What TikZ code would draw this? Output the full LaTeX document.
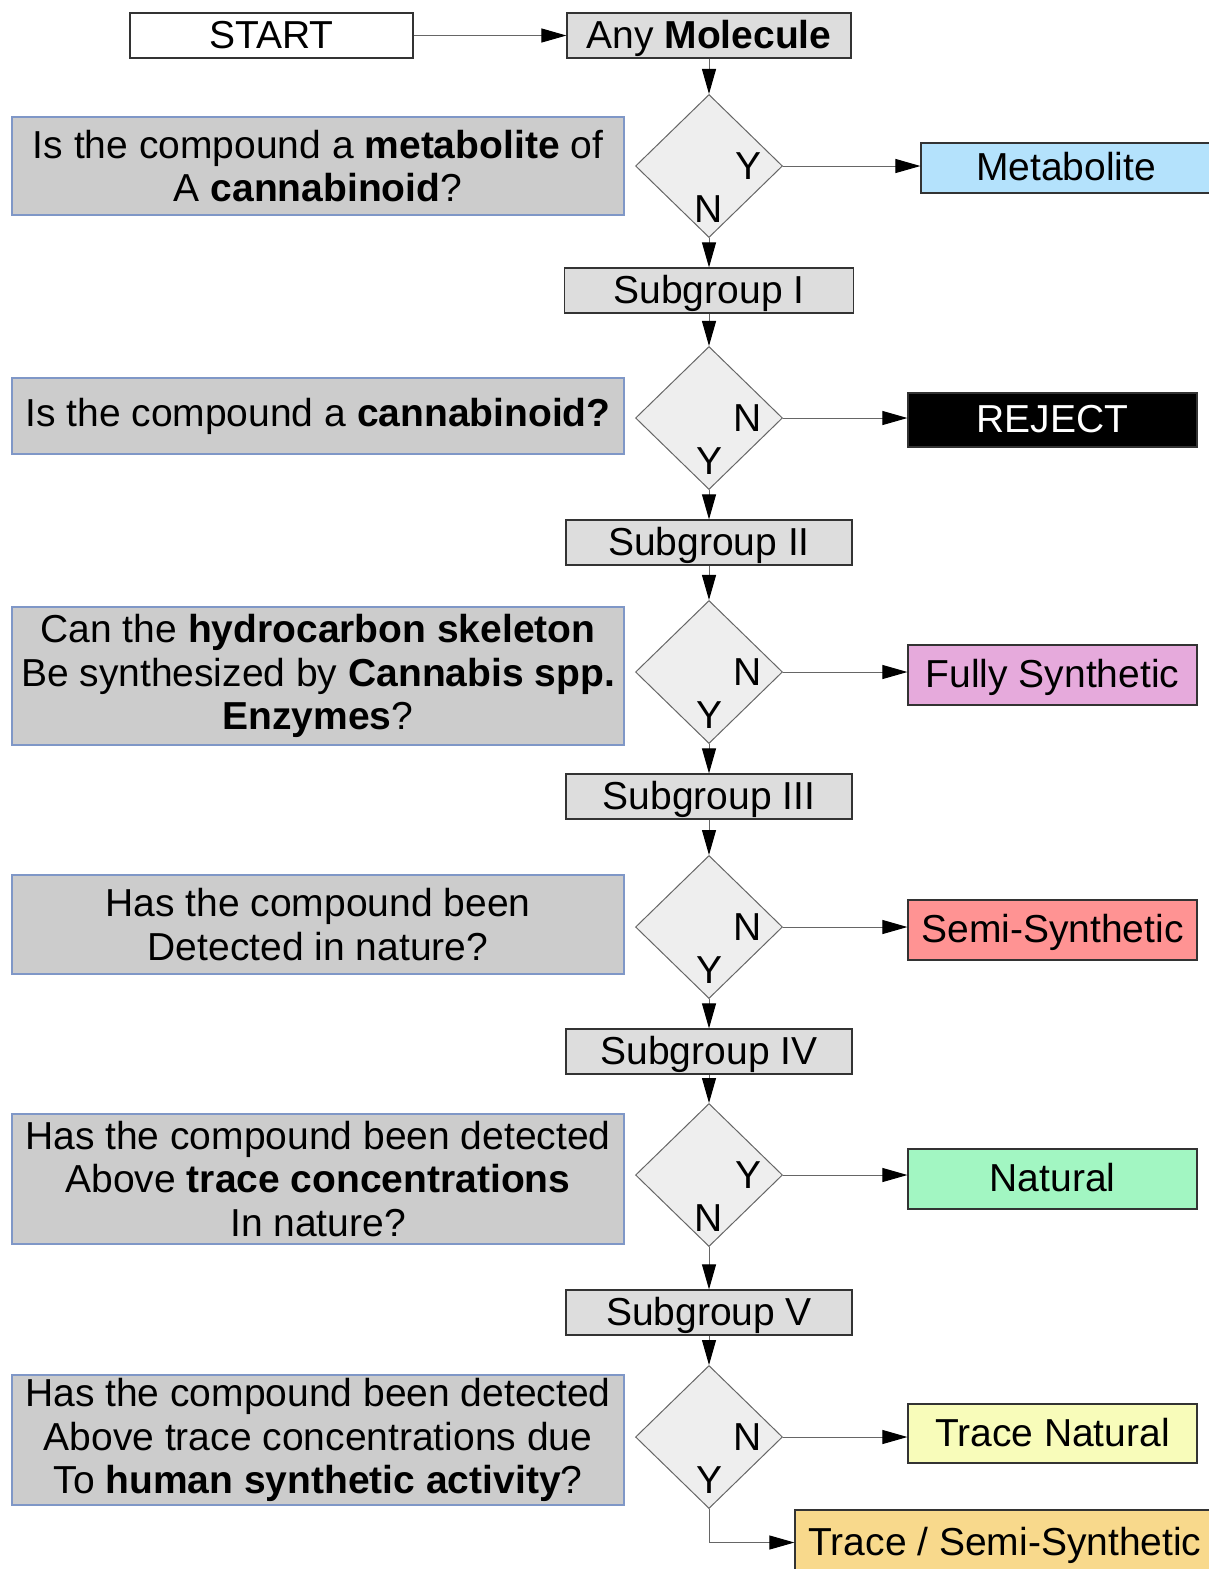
\documentclass[tikz,border=0pt]{standalone}
\usepackage{fontspec}
\setmainfont{Liberation Sans}
\usetikzlibrary{shapes,arrows.meta}
\definecolor{qgray}{HTML}{CCCCCC}
\definecolor{qedge}{HTML}{7F97C7}
\definecolor{sgray}{HTML}{DDDDDD}
\definecolor{dgray}{HTML}{EEEEEE}
\definecolor{metblue}{HTML}{B4E2FC}
\definecolor{fspink}{HTML}{E6AADC}
\definecolor{ssred}{HTML}{FF9393}
\definecolor{natgreen}{HTML}{A2F6C2}
\definecolor{tnyellow}{HTML}{F8FCBA}
\definecolor{tsorange}{HTML}{F8D98C}
\tikzstyle{box} = [draw=black!80, line width=1.2pt, rectangle, inner sep=0pt, minimum height=45pt, font=\fontsize{39}{43.5}\selectfont]
\tikzstyle{oneline} = [box, text height=29pt, text depth=4pt]
\tikzstyle{subgroup} = [oneline, fill=sgray, minimum width=286pt]
\tikzstyle{question} = [box, draw=qedge, fill=qgray, minimum width=612pt, align=center]
\tikzstyle{decision} = [draw=black!60, line width=1pt, fill=dgray, diamond, minimum width=147pt, minimum height=143pt, inner sep=0pt]
\tikzstyle{outcome} = [oneline, minimum width=289pt, minimum height=60pt]
\tikzstyle{yn} = [font=\fontsize{39}{43.5}\selectfont, inner sep=0pt]
\tikzstyle{link} = [draw=black!60, line width=1pt, -{Triangle[length=25pt,width=14pt,color=black]}]

\begin{document}
\begin{tikzpicture}[x=1pt,y=-1pt]
  \useasboundingbox (0,0) rectangle (1209,1569);

  \node[oneline, fill=white, minimum width=283pt] (start) at (271.5,35.5) {START};
  \node[subgroup, minimum width=284pt] (any) at (709,35.5) {Any \textbf{Molecule}};

  \node[decision] (d1) at (709,166) {};
  \node[yn] (y1) at ([xshift=39pt]d1.center) {Y};
  \node[yn] (n1) at ([yshift=-43pt]d1.center) {N};
  \node[question, minimum height=98pt] (q1) at (318,166) {Is the compound a \textbf{metabolite} of\\A \textbf{cannabinoid}?};
  \node[outcome, fill=metblue, minimum width=290pt, minimum height=50pt] (met) at (1066,168) {Metabolite};
  \node[subgroup, minimum width=289pt] (sg1) at (709,290.5) {Subgroup I};

  \node[decision] (d2) at (709,418) {};
  \node[yn] (n2) at ([xshift=39pt]d2.center) {N};
  \node[yn] (y2) at ([yshift=-43pt]d2.center) {Y};
  \node[question, minimum height=76pt] (q2) at (318,416) {Is the compound a \textbf{cannabinoid?}};
  \node[outcome, fill=black, text=white, minimum height=54pt] (rej) at (1052.5,420) {REJECT};
  \node[subgroup] (sg2) at (709,542.5) {Subgroup II};

  \node[decision] (d3) at (709,672) {};
  \node[yn] (n3) at ([xshift=39pt]d3.center) {N};
  \node[yn] (y3) at ([yshift=-43pt]d3.center) {Y};
  \node[question, minimum height=138pt] (q3) at (318,676) {Can the \textbf{hydrocarbon skeleton}\\Be synthesized by \textbf{Cannabis spp.}\\\textbf{Enzymes}?};
  \node[outcome, fill=fspink] (fs) at (1052.5,675) {Fully Synthetic};
  \node[subgroup] (sg3) at (709,796.5) {Subgroup III};

  \node[decision] (d4) at (709,927) {};
  \node[yn] (n4) at ([xshift=39pt]d4.center) {N};
  \node[yn] (y4) at ([yshift=-43pt]d4.center) {Y};
  \node[question, minimum height=99pt] (q4) at (318,924.5) {Has the compound been\\Detected in nature?};
  \node[outcome, fill=ssred] (ss) at (1052.5,930) {Semi-Synthetic};
  \node[subgroup] (sg4) at (709,1051.5) {Subgroup IV};

  \node[decision] (d5) at (709,1175) {};
  \node[yn] (y5) at ([xshift=39pt]d5.center) {Y};
  \node[yn] (n5) at ([yshift=-43pt]d5.center) {N};
  \node[question, minimum height=130pt] (q5) at (318,1179) {Has the compound been detected\\Above \textbf{trace concentrations}\\In nature?};
  \node[outcome, fill=natgreen] (nat) at (1052.5,1179) {Natural};
  \node[subgroup] (sg5) at (709,1312.5) {Subgroup V};

  \node[decision] (d6) at (709,1437) {};
  \node[yn] (n6) at ([xshift=39pt]d6.center) {N};
  \node[yn] (y6) at ([yshift=-43pt]d6.center) {Y};
  \node[question, minimum height=130pt] (q6) at (318,1440) {Has the compound been detected\\Above trace concentrations due\\To \textbf{human synthetic activity}?};
  \node[outcome, fill=tnyellow, minimum height=59pt] (tn) at (1052.5,1433.5) {Trace Natural};
  \node[outcome, fill=tsorange, minimum width=420pt, minimum height=65pt] (ts) at (1005,1542.5) {Trace / Semi-Synthetic};

  \path[every edge/.append style={link}]
    (start) edge (any)
    (any) edge (d1)
    (d1) edge (sg1)
    (d1.east) edge (d1.east -| met.west)
    (sg1) edge (d2)
    (d2) edge (sg2)
    (d2.east) edge (d2.east -| rej.west)
    (sg2) edge (d3)
    (d3) edge (sg3)
    (d3.east) edge (d3.east -| fs.west)
    (sg3) edge (d4)
    (d4) edge (sg4)
    (d4.east) edge (d4.east -| ss.west)
    (sg4) edge (d5)
    (d5) edge (sg5)
    (d5.east) edge (d5.east -| nat.west)
    (sg5) edge (d6)
    (d6.east) edge (d6.east -| tn.west);
  \draw[link] (d6.south) |- (ts.west);

\end{tikzpicture}
\end{document}
